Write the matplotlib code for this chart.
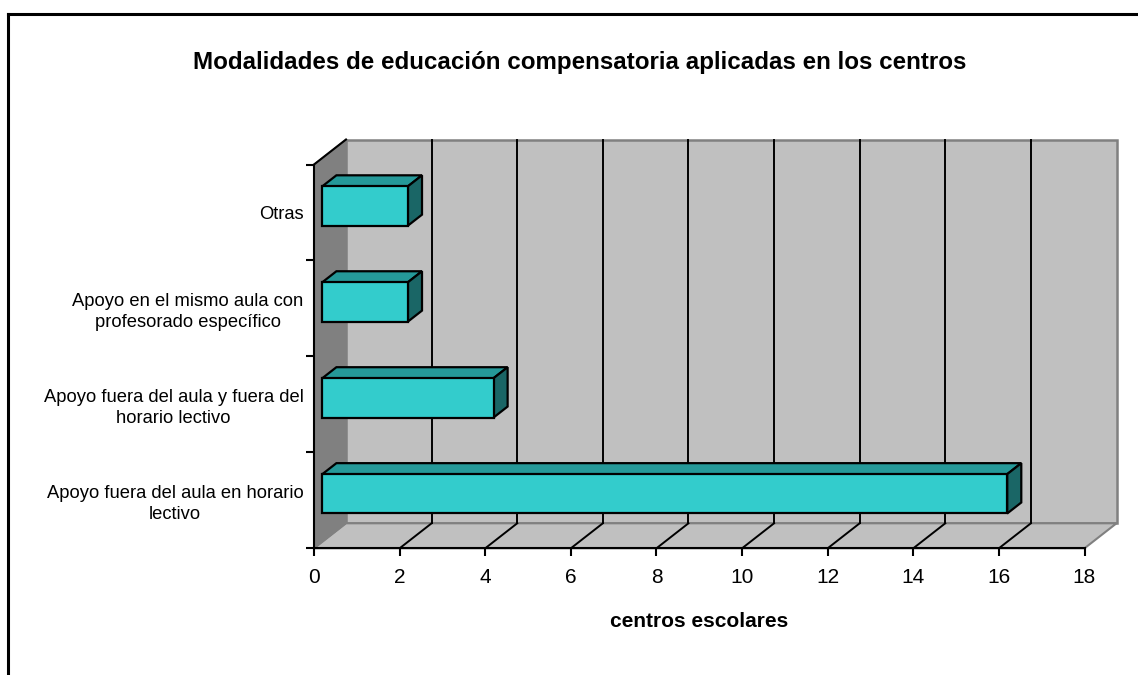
import matplotlib
matplotlib.use("Agg")
import matplotlib.pyplot as plt
from matplotlib.patches import Polygon, Rectangle
from matplotlib.lines import Line2D

plt.rcParams['font.family'] = ['Liberation Sans', 'DejaVu Sans']

# Data (bottom to top)
categories = [
    "Apoyo fuera del aula en horario\nlectivo",
    "Apoyo fuera del aula y fuera del\nhorario lectivo",
    "Apoyo en el mismo aula con\nprofesorado específico",
    "Otras",
]
values = [16, 4, 2, 2]
x_ticks = [0, 2, 4, 6, 8, 10, 12, 14, 16, 18]
title = "Modalidades de educación compensatoria aplicadas en los centros"
x_label = "centros escolares"

W, H = 1138, 675
fig = plt.figure(figsize=(W / 100, H / 100), dpi=100)
fig.patch.set_facecolor("white")

# front plane of the plot area in pixels
left_px, right_px, top_px, bottom_px = 314, 1084.5, 164.5, 548.3
ax = fig.add_axes([left_px / W, 1 - bottom_px / H,
                   (right_px - left_px) / W, (bottom_px - top_px) / H])
xmax = x_ticks[-1]
n = len(categories)
ax.set_xlim(0, xmax)
ax.set_ylim(-0.5, n - 0.5)
ax.set_facecolor("none")

# oblique depth offset (data units)
DX = 32.0 / ((right_px - left_px) / xmax)
DY = 25.0 / ((bottom_px - top_px) / n)

wall = "#C0C0C0"
side_wall = "#808080"
edge_gray = "#808080"
y0, y1 = -0.5, n - 0.5

# back wall
ax.add_patch(Rectangle((DX, y0 + DY), xmax, n, facecolor=wall,
                       edgecolor=edge_gray, lw=1.8, clip_on=False, zorder=1))
# floor
ax.add_patch(Polygon([(0, y0), (xmax, y0), (xmax + DX, y0 + DY), (DX, y0 + DY)],
                     closed=True, facecolor=wall, edgecolor=edge_gray, lw=1.5,
                     clip_on=False, zorder=1))
# left wall
ax.add_patch(Polygon([(0, y0), (0, y1), (DX, y1 + DY), (DX, y0 + DY)],
                     closed=True, facecolor=side_wall, edgecolor=edge_gray, lw=1.0,
                     clip_on=False, zorder=2))
ax.plot([0, DX], [y1, y1 + DY], color="black", lw=1.5, clip_on=False, zorder=3)

# gridlines on back wall and floor
for t in x_ticks[1:-1]:
    ax.plot([t + DX, t + DX], [y0 + DY, y1 + DY], color="black", lw=1.4,
            clip_on=False, zorder=2)
    ax.plot([t, t + DX], [y0, y0 + DY], color="black", lw=1.4,
            clip_on=False, zorder=2)

# 3D bars
f1, f2, bh = 0.26, 0.70, 0.41
front_c, top_c, side_c = "#33CCCC", "#259999", "#1A6666"
for i, v in enumerate(values):
    yb, yt = i - bh / 2, i + bh / 2
    a1, b1 = f1 * DX, f1 * DY
    a2, b2 = f2 * DX, f2 * DY
    top = [(a1, yt + b1), (v + a1, yt + b1), (v + a2, yt + b2), (a2, yt + b2)]
    side = [(v + a1, yb + b1), (v + a2, yb + b2), (v + a2, yt + b2), (v + a1, yt + b1)]
    ax.add_patch(Polygon(top, closed=True, facecolor=top_c, edgecolor="black",
                         lw=1.6, clip_on=False, zorder=5, joinstyle="miter"))
    ax.add_patch(Polygon(side, closed=True, facecolor=side_c, edgecolor="black",
                         lw=1.6, clip_on=False, zorder=5, joinstyle="miter"))
    ax.add_patch(Rectangle((a1, yb + b1), v, bh, facecolor=front_c, edgecolor="black",
                           lw=1.6, clip_on=False, zorder=6, joinstyle="miter"))

# axes lines and ticks
for s in ("top", "right"):
    ax.spines[s].set_visible(False)
for s in ("left", "bottom"):
    ax.spines[s].set_linewidth(1.5)
    ax.spines[s].set_zorder(7)

ax.set_xticks(x_ticks)
ax.set_xticklabels([str(t) for t in x_ticks], fontsize=15)
ax.tick_params(axis="x", direction="out", length=6, width=1.5, pad=8.5)

ax.set_yticks([k - 0.5 for k in range(n + 1)])
ax.set_yticklabels([])
ax.tick_params(axis="y", which="major", direction="out", length=6, width=1.5)
ax.set_yticks(range(n), minor=True)
ax.set_yticklabels(categories, minor=True, fontsize=13.2, ha="right",
                   multialignment="center", linespacing=1.3)
ax.tick_params(axis="y", which="minor", length=0, pad=7.5)

ax.set_xlabel(x_label, fontsize=15, fontweight="bold", labelpad=18)

fig.text(580 / W, 1 - 63 / H, title, ha="center", va="center",
         fontsize=17.4, fontweight="bold")

# outer frame (top and left edges)
fig.add_artist(Line2D([7.5 / W, 1], [1 - 14 / H, 1 - 14 / H], color="black", lw=2.2,
                      transform=fig.transFigure))
fig.add_artist(Line2D([7.5 / W, 7.5 / W], [0, 1 - 14 / H], color="black", lw=2.2,
                      transform=fig.transFigure))

fig.savefig("out.png", dpi=100)
